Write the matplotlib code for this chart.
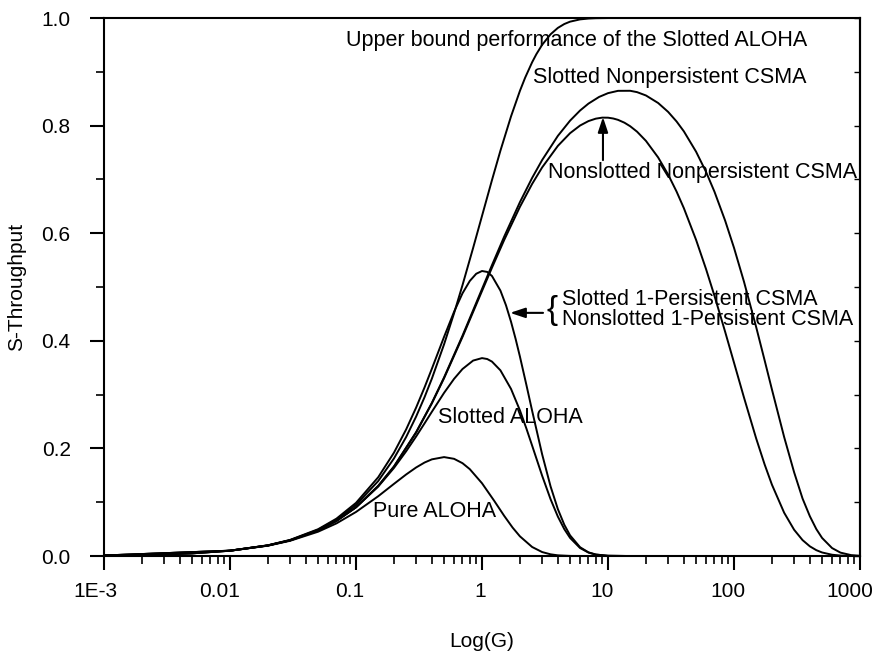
import matplotlib
matplotlib.use("Agg")
import matplotlib.pyplot as plt
import matplotlib.transforms as mtransforms
from matplotlib.ticker import FixedLocator, LogLocator, NullFormatter, MultipleLocator

plt.rcParams['font.family'] = ['Liberation Sans', 'DejaVu Sans']

# offered load G (x) and throughput S (y)
g_pure = [0.001, 0.002, 0.005, 0.01, 0.02, 0.03, 0.05, 0.07, 0.1, 0.15, 0.2, 0.25, 0.3, 0.35,
          0.4, 0.5, 0.6, 0.7, 0.8, 1.0, 1.25, 1.5, 1.75, 2.0, 2.5, 3.0, 3.5, 4.0, 5.0, 7.0, 10.0,
          1000.0]
s_pure = [0.001, 0.002, 0.00495, 0.0098, 0.0192, 0.0283, 0.0452, 0.0607, 0.0819, 0.1111, 0.1341,
          0.1516, 0.1646, 0.1738, 0.1797, 0.1839, 0.1807, 0.1726, 0.1615, 0.1353, 0.1026, 0.0747,
          0.0528, 0.0366, 0.0168, 0.0074, 0.0032, 0.0013, 0.0002, 0.0, 0.0, 0.0]

g_slot = [0.001, 0.002, 0.005, 0.01, 0.02, 0.03, 0.05, 0.07, 0.1, 0.15, 0.2, 0.25, 0.3, 0.35,
          0.4, 0.5, 0.6, 0.7, 0.85, 1.0, 1.1, 1.2, 1.4, 1.7, 2.0, 2.25, 2.5, 3.0, 3.5, 4.0, 4.5,
          5.0, 6.0, 7.0, 8.0, 10.0, 15.0, 1000.0]
s_slot = [0.001, 0.002, 0.00498, 0.0099, 0.0196, 0.0291, 0.0476, 0.0653, 0.0905, 0.1291, 0.1637,
          0.1947, 0.2222, 0.2466, 0.2681, 0.3033, 0.3293, 0.3476, 0.3633, 0.3679, 0.3662, 0.3614,
          0.3452, 0.3106, 0.2707, 0.2371, 0.2052, 0.1494, 0.1057, 0.0733, 0.05, 0.0337, 0.0149,
          0.0064, 0.0027, 0.0005, 0.0, 0.0]

g_upper = [0.001, 0.002, 0.005, 0.01, 0.02, 0.03, 0.05, 0.07, 0.1, 0.15, 0.2, 0.25, 0.3, 0.35,
           0.4, 0.5, 0.6, 0.7, 0.85, 1.0, 1.2, 1.4, 1.7, 2.0, 2.2, 2.5, 2.7, 3.0, 3.5, 4.0, 4.5,
           5.0, 6.0, 7.0, 8.0, 10.0, 1000.0]
s_upper = [0.001, 0.002, 0.00499, 0.00995, 0.0198, 0.0296, 0.0488, 0.0676, 0.0952, 0.1393, 0.1813,
           0.2212, 0.2592, 0.2953, 0.3297, 0.3935, 0.4512, 0.5034, 0.5726, 0.6321, 0.6988, 0.7534,
           0.8173, 0.8647, 0.8892, 0.9179, 0.9328, 0.9502, 0.9698, 0.9817, 0.9889, 0.9933, 0.9975,
           0.9991, 0.9997, 1.0, 1.0]

# slotted and nonslotted 1-persistent CSMA fall on one line
g_pers1 = [0.001, 0.01, 0.02, 0.03, 0.05, 0.07, 0.1, 0.15, 0.2, 0.25, 0.3, 0.35, 0.4, 0.5, 0.6,
           0.7, 0.8, 0.9, 1.0, 1.1, 1.2, 1.4, 1.55, 1.7, 1.85, 2.0, 2.25, 2.5, 3.0, 3.5, 4.0, 4.5,
           5.0, 6.0, 7.0, 8.0, 10.0, 15.0, 1000.0]
s_pers1 = [0.001, 0.01, 0.02, 0.03, 0.0498, 0.0695, 0.0988, 0.1464, 0.192, 0.2353, 0.2759,
           0.3135, 0.3481, 0.4074, 0.4539, 0.4883, 0.5113, 0.5247, 0.5298, 0.5281, 0.5205, 0.4934,
           0.4661, 0.4354, 0.4032, 0.3707, 0.3182, 0.2699, 0.1892, 0.1295, 0.0872, 0.0581, 0.0384,
           0.0164, 0.0068, 0.0028, 0.0005, 0.0, 0.0]

g_np = [0.001, 0.01, 0.02, 0.03, 0.05, 0.07, 0.1, 0.15, 0.2, 0.3, 0.4, 0.5, 0.7, 1.0, 1.2, 1.5,
        2.0, 2.5, 3.0, 4.0, 5.0, 6.0, 7.0, 8.0, 9.0, 10.0, 11.0, 12.0, 13.5, 15.0, 17.0, 20.0,
        25.0, 30.0, 35.0, 40.0, 50.0, 60.0, 70.0, 85.0, 100.0, 120.0, 150.0, 175.0, 200.0, 250.0,
        300.0, 350.0, 400.0, 450.0, 500.0, 600.0, 700.0, 850.0, 1000.0]
s_np = [0.001, 0.0099, 0.0196, 0.0291, 0.0476, 0.0653, 0.0907, 0.1301, 0.1661, 0.2295, 0.2838,
        0.3306, 0.4072, 0.4926, 0.536, 0.5875, 0.6491, 0.6917, 0.7223, 0.7624, 0.786, 0.8002,
        0.8085, 0.813, 0.8149, 0.8148, 0.8133, 0.8108, 0.8055, 0.7989, 0.7888, 0.7717, 0.7409,
        0.7091, 0.6775, 0.6466, 0.5877, 0.5333, 0.4835, 0.417, 0.3594, 0.2946, 0.2184, 0.1702,
        0.1326, 0.0805, 0.0488, 0.0296, 0.018, 0.0109, 0.0066, 0.0024, 0.0009, 0.0002, 0.0]

g_snp = [0.001, 0.01, 0.02, 0.03, 0.05, 0.07, 0.1, 0.15, 0.2, 0.3, 0.4, 0.5, 0.7, 1.0, 1.2, 1.5,
         2.0, 2.5, 3.0, 4.0, 5.0, 6.0, 7.0, 8.5, 10.0, 12.0, 15.0, 17.0, 20.0, 25.0, 30.0, 35.0,
         40.0, 50.0, 60.0, 70.0, 85.0, 100.0, 120.0, 150.0, 175.0, 200.0, 250.0, 300.0, 350.0,
         400.0, 450.0, 500.0, 600.0, 700.0, 850.0, 1000.0]
s_snp = [0.001, 0.0099, 0.0196, 0.0291, 0.0476, 0.0654, 0.0908, 0.1303, 0.1664, 0.2302, 0.2847,
         0.332, 0.4095, 0.4963, 0.5407, 0.5937, 0.6578, 0.7029, 0.736, 0.781, 0.8093, 0.8281,
         0.841, 0.8534, 0.8604, 0.8647, 0.8648, 0.8623, 0.8561, 0.8421, 0.8256, 0.8078, 0.7894,
         0.7516, 0.714, 0.6771, 0.6236, 0.5729, 0.5099, 0.4254, 0.3637, 0.3095, 0.2212, 0.1556,
         0.1068, 0.0739, 0.0501, 0.0336, 0.0148, 0.0063, 0.0017, 0.0005]

x_ticks = [0.001, 0.01, 0.1, 1, 10, 100, 1000]
x_labels = ['1E-3', '0.01', '0.1', '1', '10', '100', '1000']
y_ticks = [0.0, 0.2, 0.4, 0.6, 0.8, 1.0]

fig = plt.figure(figsize=(8.79, 6.54), dpi=100)
ax = fig.add_axes([0.1183, 0.1498, 0.8601, 0.8226])

lw = 1.4
for g, s in [(g_upper, s_upper), (g_snp, s_snp), (g_np, s_np),
             (g_pers1, s_pers1), (g_slot, s_slot), (g_pure, s_pure)]:
    ax.plot(g, s, color='black', lw=lw, solid_joinstyle='round')

ax.set_xscale('log')
ax.set_xlim(0.001, 1000)
ax.set_ylim(0, 1.0)

ax.xaxis.set_major_locator(FixedLocator(x_ticks))
ax.set_xticklabels(x_labels)
ax.xaxis.set_minor_locator(LogLocator(base=10, subs=range(2, 10), numticks=20))
ax.xaxis.set_minor_formatter(NullFormatter())
ax.set_yticks(y_ticks)
ax.set_yticklabels(['%.1f' % v for v in y_ticks])
ax.yaxis.set_minor_locator(MultipleLocator(0.1))

for sp in ax.spines.values():
    sp.set_linewidth(1.5)

ax.tick_params(which='major', direction='out', length=10, width=1.5, labelsize=15,
               top=False, right=False)
ax.tick_params(which='minor', direction='out', length=6, width=1.2, top=False, right=False)
ax.tick_params(axis='x', which='major', pad=9)
ax.tick_params(axis='y', which='major', pad=14)

# x labels sit a little left of their ticks in the reference
shifts = [-9, -10, -6.5, -2, -6, -6.5, -10]
for lab, dx in zip(ax.get_xticklabels(), shifts):
    lab.set_transform(lab.get_transform() +
                      mtransforms.ScaledTranslation(dx / 100.0, 0, fig.dpi_scale_trans))

# small inward ticks along the right frame
ax_r = ax.secondary_yaxis('right')
ax_r.set_yticks([0.1 * i for i in range(11)])
ax_r.tick_params(direction='in', length=4, width=1.0, labelright=False)
ax_r.spines['right'].set_linewidth(1.5)

ax.set_ylabel('S-Throughput', fontsize=15, labelpad=11)
ax.set_xlabel('Log(G)', fontsize=15, labelpad=22)

fs = 15.5
ax.text(0.0834, 0.959, 'Upper bound performance of the Slotted ALOHA', fontsize=fs, va='center')
ax.text(2.54, 0.890, 'Slotted Nonpersistent CSMA', fontsize=fs, va='center')
ax.text(3.34, 0.712, 'Nonslotted Nonpersistent CSMA', fontsize=fs, va='center')
ax.text(4.31, 0.476, 'Slotted 1-Persistent CSMA', fontsize=fs, va='center')
ax.text(4.31, 0.439, 'Nonslotted 1-Persistent CSMA', fontsize=fs, va='center')
ax.text(3.62, 0.456, '{', fontsize=24, va='center', ha='center')
ax.text(0.448, 0.258, 'Slotted ALOHA', fontsize=fs, va='center')
ax.text(0.1365, 0.082, 'Pure ALOHA', fontsize=fs, va='center')

arrow = dict(arrowstyle='-|>,head_length=0.9,head_width=0.3', color='black', lw=1.5,
             shrinkA=0, shrinkB=0)
ax.annotate('', xy=(9.12, 0.816), xytext=(9.12, 0.736), arrowprops=arrow)
ax.annotate('', xy=(1.67, 0.452), xytext=(3.05, 0.452), arrowprops=arrow)

fig.savefig('out.png', dpi=100)
plt.close(fig)
